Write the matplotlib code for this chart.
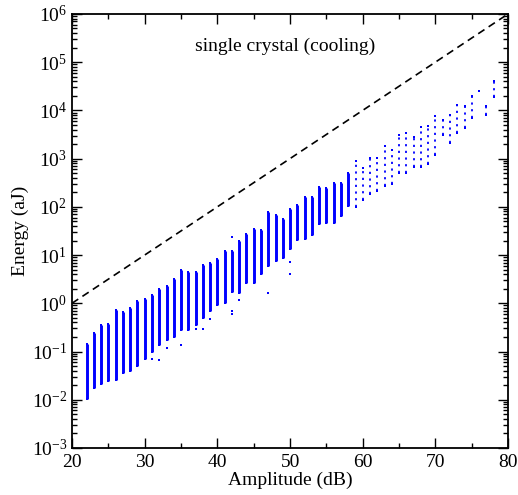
import numpy as np
import matplotlib
matplotlib.use("Agg")
import matplotlib.pyplot as plt
from matplotlib.ticker import LogLocator, LogFormatterMathtext, MultipleLocator, NullFormatter

plt.rcParams["font.family"] = ["Liberation Serif", "DejaVu Serif"]
plt.rcParams["mathtext.fontset"] = "custom"
plt.rcParams["mathtext.rm"] = "Liberation Serif"
plt.rcParams["mathtext.default"] = "rm"

# amplitude (dB) of each column and the range of log10(energy/aJ) it covers
amplitude = np.arange(22, 79)
log_lo = [-1.98, -1.76, -1.68, -1.62, -1.60, -1.45, -1.40, -1.31, -1.15, -1.00,
          -0.86, -0.76, -0.69, -0.55, -0.55, -0.45, -0.31, -0.17, -0.03, 0.01,
          0.24, 0.22, 0.43, 0.43, 0.61, 0.77, 0.87, 0.93, 1.12, 1.32,
          1.33, 1.42, 1.65, 1.66, 1.67, 1.80, 2.02, 2.00, 2.15, 2.27,
          2.32, 2.44, 2.47, 2.70, 2.70, 2.82, 2.82, 2.89, 3.08, 3.49,
          3.32, 3.53, 3.63, 3.85, 4.41, 3.91, 4.27]
log_hi = [-0.85, -0.61, -0.46, -0.43, -0.14, -0.19, -0.09, 0.04, 0.085, 0.17,
          0.29, 0.36, 0.50, 0.68, 0.64, 0.64, 0.80, 0.83, 0.91, 1.09,
          1.08, 1.29, 1.44, 1.55, 1.51, 1.90, 1.83, 1.75, 1.95, 2.04,
          2.21, 2.21, 2.41, 2.39, 2.50, 2.50, 2.71, 2.94, 2.80, 3.02,
          3.02, 3.27, 3.18, 3.49, 3.53, 3.45, 3.65, 3.67, 3.89, 3.79,
          3.91, 4.12, 4.08, 4.29, 4.41, 4.10, 4.60]

# isolated hits away from the columns
out_amp = [31, 32, 33, 35, 37, 38, 39, 42, 42, 42, 43, 47, 50, 50]
out_log = [-1.16, -1.17, -0.93, -0.86, -0.54, -0.53, -0.33, 1.37, -0.16, -0.23,
           0.07, 0.21, 0.85, 0.61]

# reference line E = 10^((A-20)/10)
line_amp = np.array([20, 80])

lo = 10.0 ** np.array(log_lo)
hi = 10.0 ** np.array(log_hi)
dense = amplitude <= 58

fig = plt.figure(figsize=(5.18, 4.95), dpi=100)
ax = fig.add_axes([0.139, 0.095, 0.842, 0.877])

ax.vlines(amplitude[dense], lo[dense], hi[dense], color="blue", lw=2.1)
ax.vlines(amplitude[~dense], lo[~dense], hi[~dense], color="blue", lw=1.3,
          linestyles=(0, (1.2, 2.5)))
ax.scatter(amplitude, lo, s=2.5, marker="s", color="blue", lw=0)
ax.scatter(amplitude, hi, s=2.5, marker="s", color="blue", lw=0)
ax.scatter(out_amp, 10.0 ** np.array(out_log), s=2.5, marker="s", color="blue", lw=0)

ax.plot(line_amp, 10.0 ** ((line_amp - 20) / 10.0), color="black", lw=1.2,
        dashes=(4.5, 3))

ax.set_yscale("log")
ax.set_xlim(20, 80)
ax.set_ylim(1e-3, 1e6)
ax.xaxis.set_major_locator(MultipleLocator(10))
ax.xaxis.set_minor_locator(MultipleLocator(5))
ax.yaxis.set_major_locator(LogLocator(base=10, numticks=20))
ax.yaxis.set_minor_locator(LogLocator(base=10, subs=np.arange(2, 10), numticks=20))
ax.yaxis.set_major_formatter(LogFormatterMathtext())
ax.yaxis.set_minor_formatter(NullFormatter())
ax.tick_params(which="both", direction="in", top=True, right=True, labelsize=14,
               width=1.0)
ax.tick_params(which="major", length=7)
ax.tick_params(which="minor", length=3.5)
ax.tick_params(axis="x", pad=4)
for s in ax.spines.values():
    s.set_linewidth(1.3)

ax.set_xlabel("Amplitude (dB)", fontsize=14, labelpad=1)
ax.set_ylabel("Energy (aJ)", fontsize=14, labelpad=2)
ax.text(49.3, 10 ** 5.33, "single crystal (cooling)", fontsize=14,
        ha="center", va="center")

fig.savefig("out.png", dpi=100)
